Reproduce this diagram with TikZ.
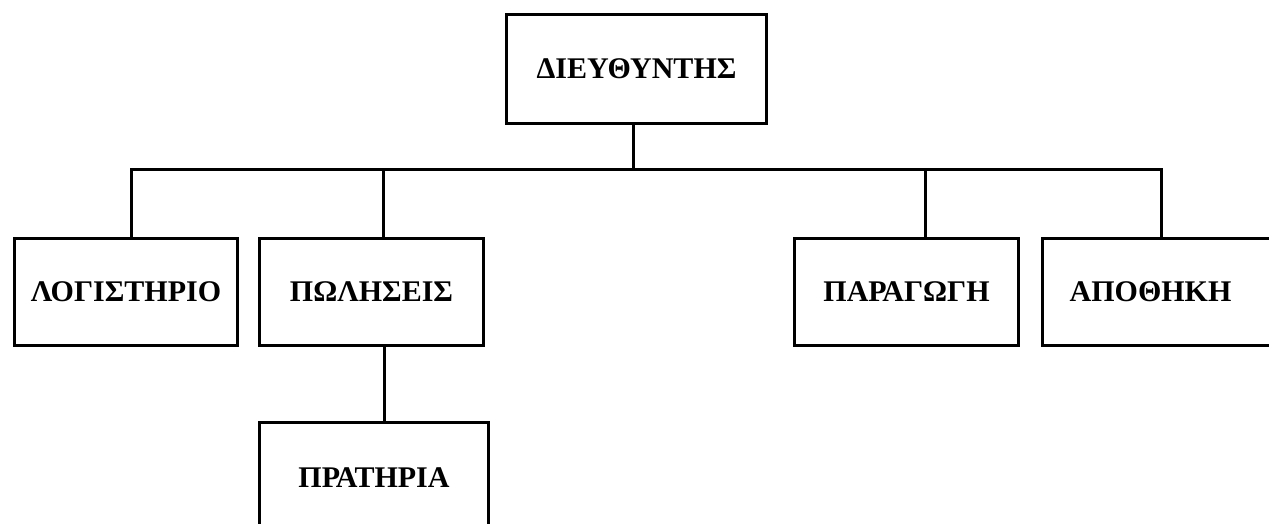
\documentclass[tikz,border=0pt]{standalone}
\usepackage{fontspec}
\setmainfont{Liberation Serif}
\begin{document}
\begin{tikzpicture}[x=1pt,y=-1pt,
  box/.style={draw=black,line width=3pt,rectangle,anchor=north west,inner sep=0pt,
    font=\fontsize{30}{34}\selectfont\bfseries,align=center},
  conn/.style={draw=black,line width=3pt}]
\useasboundingbox (0,0) rectangle (1269,523);
\fill[white] (0,0) rectangle (1269,523);
\node[box,minimum width=260pt,minimum height=109pt] (dir) at (505,13) {\raisebox{-4pt}{ΔΙΕΥΘΥΝΤΗΣ}};
\node[box,minimum width=223pt,minimum height=107pt] (log) at (13,237) {ΛΟΓΙΣΤΗΡΙΟ};
\node[box,minimum width=224pt,minimum height=107pt] (pol) at (258,237) {ΠΩΛΗΣΕΙΣ};
\node[box,minimum width=224pt,minimum height=107pt] (par) at (793,237) {ΠΑΡΑΓΩΓΗ};
\node[box,minimum width=244pt,minimum height=107pt] (apo) at (1041,237) {\hspace*{-28pt}ΑΠΟΘΗΚΗ};
\node[box,minimum width=229pt,minimum height=110pt] (pra) at (258,421) {\raisebox{-2pt}{ΠΡΑΤΗΡΙΑ}};
\coordinate (bd) at (633,169);
\coordinate (b1) at (131,169);
\coordinate (b2) at (383,169);
\coordinate (b3) at (925,169);
\coordinate (b4) at (1161,169);
\coordinate (bp) at (384,344);
\draw[conn] (bd |- dir.south) -- (bd);
\draw[conn] (b1 |- log.north) -- (b1) -- (b4) -- (b4 |- apo.north);
\draw[conn] (b2) -- (b2 |- pol.north);
\draw[conn] (b3) -- (b3 |- par.north);
\draw[conn] (bp |- pol.south) -- (bp |- pra.north);
\end{tikzpicture}
\end{document}
